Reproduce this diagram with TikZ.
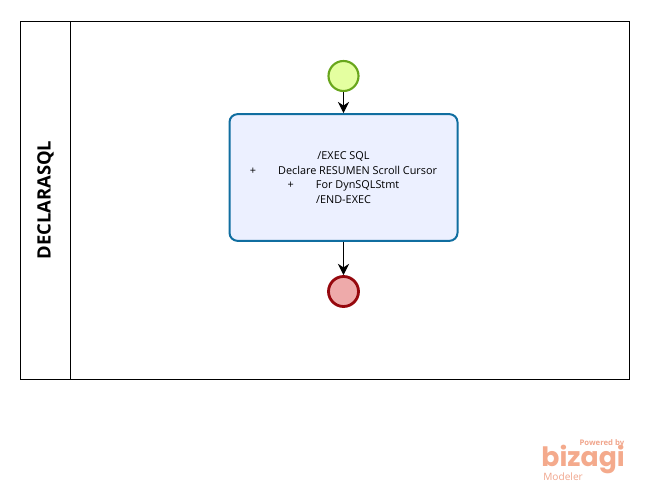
\documentclass[tikz,border=0pt]{standalone}
\usepackage{fontspec}
\setmainfont{Open Sans}
\newfontfamily\logofont{Poppins}
\usepackage{xcolor}
\usetikzlibrary{arrows.meta, positioning}
\definecolor{StartFill}{RGB}{228,255,160}
\definecolor{StartLine}{RGB}{104,166,28}
\definecolor{EndFill}{RGB}{238,170,170}
\definecolor{EndLine}{RGB}{150,8,14}
\definecolor{TaskFill}{RGB}{236,240,255}
\definecolor{TaskLine}{RGB}{16,110,160}
\definecolor{LogoMain}{RGB}{244,170,140}
\definecolor{LogoSoft}{RGB}{240,165,140}
\tikzset{
  lanebox/.style={draw=black,line width=0.8pt,fill=white},
  startevent/.style={circle,draw=StartLine,fill=StartFill,line width=1.6pt,minimum size=22.5pt,inner sep=0pt},
  endevent/.style={circle,draw=EndLine,fill=EndFill,line width=2.1pt,minimum size=22.5pt,inner sep=0pt},
  taskbox/.style={rectangle,rounded corners=6pt,draw=TaskLine,fill=TaskFill,line width=1.5pt,
    minimum width=171pt,minimum height=95pt,inner sep=0pt,align=center,font=\fontsize{8.15}{10.9}\selectfont},
  flow/.style={-{Stealth[length=8.5pt,width=8.5pt]},black,line width=0.8pt}
}
\newcommand{\plustab}{+\hspace{16.5pt}}
\begin{document}
\begin{tikzpicture}[x=0.75pt,y=-0.75pt]
  \useasboundingbox (0,0) rectangle (649,492);
  % Pool and lane
  \draw[lanebox] (20.5,21.5) rectangle (629.5,379.5);
  \draw[lanebox] (70.5,21.5) -- (70.5,379.5);
  \node[rotate=90,font=\fontsize{13.8}{16}\selectfont\bfseries] (lanetitle) at (45.5,200) {DECLARASQL};
  % Flow
  \node[startevent] (inicio) at (343.5,76) {};
  \node[taskbox] (declara) at (343.5,177.5) {/EXEC SQL\\
    \plustab Declare RESUMEN Scroll Cursor\\
    \plustab For DynSQLStmt\\
    /END-EXEC};
  \node[endevent] (fin) at (343.5,291.5) {};
  \draw[flow] (inicio) -- (declara);
  \draw[flow] (declara) -- (fin);
  % Logo
  \node[anchor=east,text=LogoSoft,font=\fontsize{5.8}{7}\selectfont\bfseries,inner sep=0pt] (powered) at (624.5,443.5) {Powered by};
  \node[anchor=base east,text=LogoMain,font=\logofont\fontsize{20}{24}\selectfont\bfseries,inner sep=0pt,text depth=0pt,text height=11pt] (bizagi) at (625,466.5) {bizagi};
  \node[anchor=west,text=LogoSoft,font=\fontsize{7.6}{9}\selectfont,inner sep=0pt] (modeler) at (543,477) {Modeler};
\end{tikzpicture}
\end{document}
